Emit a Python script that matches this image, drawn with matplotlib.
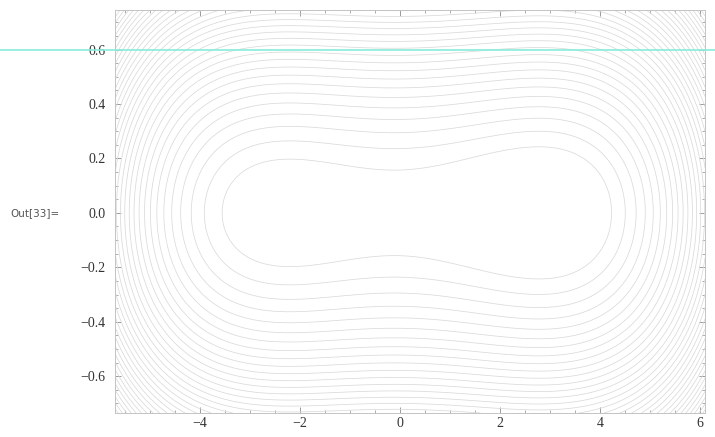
import numpy as np
import matplotlib
matplotlib.use("Agg")
import matplotlib.pyplot as plt
from matplotlib.lines import Line2D
from matplotlib.ticker import MultipleLocator

# plot ranges read from the frame
x_range = [-5.7, 6.1]
y_range = [-0.735, 0.745]
x_ticks = [-4, -2, 0, 2, 4, 6]
y_ticks = [-0.6, -0.4, -0.2, 0.0, 0.2, 0.4, 0.6]

# double well: H = p^2 + a*u^4 - b*u^2 + t*u, u = x - shift
shift = 0.15
well_a = 0.0006
well_b = 0.0075
tilt = -0.004
level_step = 0.031
n_levels = 50

x = np.linspace(x_range[0], x_range[1], 600)
y = np.linspace(y_range[0], y_range[1], 400)
X, Y = np.meshgrid(x, y)
U = X - shift
H = Y**2 + well_a * U**4 - well_b * U**2 + tilt * U
levels = H.min() + level_step * (np.arange(n_levels) + 1.9)

plt.rcParams['font.family'] = ['Liberation Serif', 'DejaVu Serif']
plt.rcParams['contour.negative_linestyle'] = 'solid'
fig = plt.figure(figsize=(7.15, 4.37), dpi=100)
ax = fig.add_axes([0.161, 0.055, 0.825, 0.922])
ax.contour(X, Y, H, levels=levels, colors='#dadada', linewidths=0.55)

ax.set_xlim(x_range)
ax.set_ylim(y_range)
ax.set_xticks(x_ticks)
ax.set_yticks(y_ticks)
ax.set_xticklabels([f"{v:g}".replace('-', '\u2212') for v in x_ticks])
ax.set_yticklabels([f"{v:.1f}".replace('-', '\u2212') for v in y_ticks])
ax.xaxis.set_minor_locator(MultipleLocator(0.5))
ax.yaxis.set_minor_locator(MultipleLocator(0.05))
ax.tick_params(which='both', direction='in', top=True, right=True,
               colors='#8a8a8a', labelcolor='#333333', labelsize=10)
ax.tick_params(which='major', length=4, width=0.6)
ax.tick_params(which='minor', length=2, width=0.5)
ax.tick_params(axis='y', pad=7)
ax.tick_params(axis='x', pad=3)
for s in ax.spines.values():
    s.set_color('#c4c4c4')
    s.set_linewidth(0.7)

fig.text(0.014, 0.512, 'Out[33]=', family='DejaVu Sans', fontsize=7.5,
         color='#555555', va='center', ha='left')

# cyan screen line across the capture
fig.add_artist(Line2D([0, 1], [0.886, 0.886], transform=fig.transFigure,
                      color='#86ecd8', linewidth=1.2))

fig.savefig('out.png', dpi=100, facecolor='white')
